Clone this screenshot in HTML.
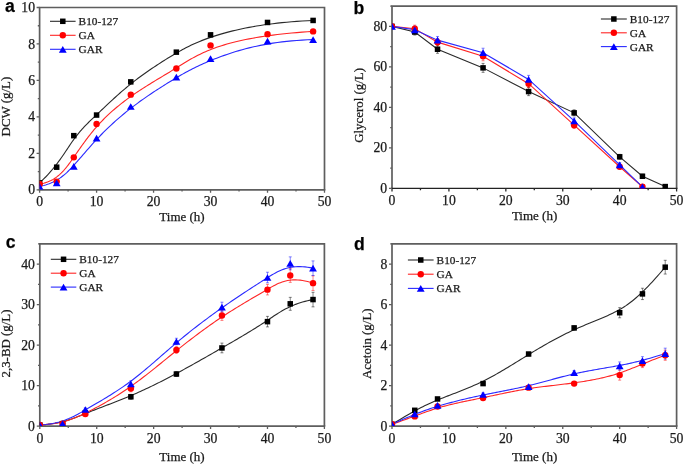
<!DOCTYPE html><html><head><meta charset="utf-8"><style>html,body{margin:0;padding:0;background:#fff;}svg{display:block;} svg{will-change:transform} text{stroke:#1a1a1a;stroke-width:0.25px}</style></head><body>
<svg width="685" height="465" viewBox="0 0 685 465">
<rect width="685" height="465" fill="#fff"/>
<path d="M39.6,189.8 V7.5 H324.5 V189.8" fill="none" stroke="#5e5e5e" stroke-width="1.7" stroke-linejoin="miter"/>
<path d="M38.75,189.8 H325.35" fill="none" stroke="#5e5e5e" stroke-width="1.7"/>
<clipPath id="cpa"><rect x="39.6" y="7.5" width="284.9" height="182.3"/></clipPath>
<g clip-path="url(#cpa)">
<path d="M39.6,182.87 L41.69,180.91 L43.7,178.95 L45.63,177 L47.47,175.05 L49.24,173.1 L50.94,171.17 L52.58,169.24 L54.14,167.33 L55.65,165.44 L57.1,163.56 L58.5,161.7 L59.84,159.86 L61.14,158.04 L62.39,156.25 L63.61,154.48 L64.78,152.74 L65.93,151.03 L67.04,149.36 L68.13,147.72 L69.2,146.12 L70.25,144.55 L71.28,143.03 L72.3,141.55 L73.31,140.11 L74.32,138.72 L75.32,137.37 L76.32,136.06 L77.32,134.79 L78.32,133.55 L79.32,132.35 L80.31,131.18 L81.31,130.03 L82.32,128.91 L83.33,127.81 L84.34,126.72 L85.36,125.65 L86.39,124.59 L87.43,123.55 L88.47,122.5 L89.53,121.47 L90.6,120.43 L91.68,119.39 L92.77,118.35 L93.88,117.3 L95,116.24 L96.14,115.16 L97.3,114.07 L98.48,112.96 L99.68,111.83 L100.89,110.68 L102.13,109.51 L103.39,108.32 L104.66,107.11 L105.96,105.89 L107.27,104.65 L108.61,103.4 L109.96,102.13 L111.34,100.86 L112.73,99.57 L114.15,98.28 L115.58,96.98 L117.04,95.67 L118.51,94.35 L120.01,93.03 L121.52,91.71 L123.05,90.38 L124.61,89.06 L126.18,87.73 L127.77,86.41 L129.38,85.09 L131.02,83.77 L132.67,82.46 L134.34,81.15 L136.03,79.85 L137.73,78.55 L139.46,77.27 L141.19,75.99 L142.94,74.73 L144.69,73.47 L146.46,72.22 L148.23,70.99 L150,69.76 L151.78,68.55 L153.56,67.35 L155.34,66.17 L157.12,65 L158.89,63.84 L160.66,62.7 L162.43,61.58 L164.18,60.47 L165.93,59.38 L167.66,58.31 L169.39,57.26 L171.09,56.23 L172.78,55.22 L174.45,54.23 L176.11,53.26 L177.74,52.31 L179.37,51.38 L180.99,50.47 L182.61,49.58 L184.23,48.7 L185.86,47.84 L187.5,46.99 L189.16,46.16 L190.84,45.34 L192.54,44.53 L194.28,43.74 L196.05,42.95 L197.85,42.17 L199.71,41.4 L201.61,40.63 L203.56,39.87 L205.57,39.12 L207.64,38.37 L209.78,37.62 L211.99,36.87 L214.27,36.13 L216.64,35.38 L219.09,34.63 L221.63,33.88 L224.26,33.13 L226.98,32.39 L229.81,31.64 L232.74,30.9 L235.78,30.17 L238.93,29.45 L242.2,28.74 L245.58,28.04 L249.09,27.36 L252.72,26.69 L256.48,26.05 L260.38,25.42 L264.41,24.82 L268.58,24.24 L272.9,23.68 L277.37,23.16 L281.99,22.66 L286.76,22.2 L291.7,21.77 L296.79,21.38 L302.06,21.03 L307.49,20.72 L313.1,20.44" fill="none" stroke="#2a2a2a" stroke-width="1.1"/>
<path d="M39.6,183.97 L41.69,183.62 L43.7,183.18 L45.63,182.64 L47.47,182.02 L49.24,181.31 L50.94,180.52 L52.58,179.66 L54.14,178.73 L55.65,177.73 L57.1,176.67 L58.5,175.55 L59.84,174.38 L61.14,173.16 L62.39,171.9 L63.61,170.6 L64.78,169.26 L65.93,167.89 L67.04,166.5 L68.13,165.09 L69.2,163.66 L70.25,162.21 L71.28,160.76 L72.3,159.31 L73.31,157.85 L74.32,156.4 L75.32,154.96 L76.32,153.52 L77.32,152.08 L78.32,150.66 L79.32,149.23 L80.31,147.82 L81.31,146.4 L82.32,145 L83.33,143.6 L84.34,142.2 L85.36,140.82 L86.39,139.43 L87.43,138.06 L88.47,136.69 L89.53,135.33 L90.6,133.97 L91.68,132.62 L92.77,131.28 L93.88,129.94 L95,128.61 L96.14,127.28 L97.3,125.97 L98.48,124.66 L99.68,123.36 L100.89,122.06 L102.13,120.77 L103.39,119.49 L104.66,118.21 L105.96,116.94 L107.27,115.68 L108.61,114.42 L109.96,113.18 L111.34,111.93 L112.73,110.7 L114.15,109.47 L115.58,108.24 L117.04,107.03 L118.51,105.81 L120.01,104.61 L121.52,103.41 L123.05,102.22 L124.61,101.03 L126.18,99.85 L127.77,98.68 L129.38,97.51 L131.02,96.34 L132.67,95.19 L134.34,94.03 L136.03,92.89 L137.73,91.75 L139.46,90.61 L141.19,89.48 L142.94,88.36 L144.69,87.24 L146.46,86.13 L148.23,85.02 L150,83.92 L151.78,82.82 L153.56,81.73 L155.34,80.65 L157.12,79.57 L158.89,78.49 L160.66,77.42 L162.43,76.36 L164.18,75.3 L165.93,74.25 L167.66,73.2 L169.39,72.16 L171.09,71.12 L172.78,70.08 L174.45,69.06 L176.11,68.03 L177.74,67.02 L179.37,66 L180.99,65 L182.61,64 L184.23,63 L185.86,62.02 L187.5,61.04 L189.16,60.06 L190.84,59.1 L192.54,58.14 L194.28,57.19 L196.05,56.25 L197.85,55.31 L199.71,54.39 L201.61,53.47 L203.56,52.57 L205.57,51.67 L207.64,50.78 L209.78,49.9 L211.99,49.04 L214.27,48.18 L216.64,47.33 L219.09,46.5 L221.63,45.67 L224.26,44.86 L226.98,44.06 L229.81,43.27 L232.74,42.5 L235.78,41.74 L238.93,41 L242.2,40.28 L245.58,39.57 L249.09,38.87 L252.72,38.2 L256.48,37.54 L260.38,36.91 L264.41,36.29 L268.58,35.7 L272.9,35.12 L277.37,34.57 L281.99,34.04 L286.76,33.53 L291.7,33.05 L296.79,32.6 L302.06,32.16 L307.49,31.76 L313.1,31.38" fill="none" stroke="#ff2525" stroke-width="1.1"/>
<path d="M39.6,186.52 L41.69,186.04 L43.7,185.51 L45.63,184.95 L47.47,184.33 L49.24,183.68 L50.94,182.99 L52.58,182.26 L54.14,181.5 L55.65,180.7 L57.1,179.87 L58.5,179.01 L59.84,178.12 L61.14,177.21 L62.39,176.26 L63.61,175.3 L64.78,174.31 L65.93,173.3 L67.04,172.28 L68.13,171.23 L69.2,170.18 L70.25,169.11 L71.28,168.02 L72.3,166.93 L73.31,165.83 L74.32,164.72 L75.32,163.6 L76.32,162.48 L77.32,161.35 L78.32,160.22 L79.32,159.08 L80.31,157.93 L81.31,156.78 L82.32,155.62 L83.33,154.45 L84.34,153.28 L85.36,152.1 L86.39,150.92 L87.43,149.73 L88.47,148.53 L89.53,147.33 L90.6,146.12 L91.68,144.91 L92.77,143.69 L93.88,142.46 L95,141.23 L96.14,140 L97.3,138.76 L98.48,137.51 L99.68,136.26 L100.89,135 L102.13,133.74 L103.39,132.47 L104.66,131.2 L105.96,129.93 L107.27,128.65 L108.61,127.37 L109.96,126.09 L111.34,124.81 L112.73,123.52 L114.15,122.24 L115.58,120.95 L117.04,119.66 L118.51,118.38 L120.01,117.09 L121.52,115.8 L123.05,114.52 L124.61,113.24 L126.18,111.95 L127.77,110.67 L129.38,109.4 L131.02,108.12 L132.67,106.85 L134.34,105.59 L136.03,104.32 L137.73,103.07 L139.46,101.82 L141.19,100.57 L142.94,99.33 L144.69,98.1 L146.46,96.88 L148.23,95.67 L150,94.46 L151.78,93.27 L153.56,92.08 L155.34,90.91 L157.12,89.75 L158.89,88.6 L160.66,87.47 L162.43,86.35 L164.18,85.24 L165.93,84.15 L167.66,83.07 L169.39,82.01 L171.09,80.97 L172.78,79.94 L174.45,78.93 L176.11,77.94 L177.74,76.97 L179.37,76.01 L180.99,75.07 L182.61,74.14 L184.23,73.23 L185.86,72.32 L187.5,71.42 L189.16,70.54 L190.84,69.65 L192.54,68.78 L194.28,67.91 L196.05,67.04 L197.85,66.17 L199.71,65.3 L201.61,64.43 L203.56,63.56 L205.57,62.68 L207.64,61.8 L209.78,60.91 L211.99,60.02 L214.27,59.11 L216.64,58.2 L219.09,57.27 L221.63,56.33 L224.26,55.38 L226.98,54.42 L229.81,53.46 L232.74,52.51 L235.78,51.56 L238.93,50.61 L242.2,49.69 L245.58,48.77 L249.09,47.88 L252.72,47.01 L256.48,46.17 L260.38,45.36 L264.41,44.59 L268.58,43.85 L272.9,43.16 L277.37,42.51 L281.99,41.91 L286.76,41.37 L291.7,40.88 L296.79,40.46 L302.06,40.1 L307.49,39.8 L313.1,39.58" fill="none" stroke="#2a2aff" stroke-width="1.1"/>
<rect x="36.85" y="180.12" width="5.5" height="5.5" fill="#000000"/>
<rect x="53.94" y="164.44" width="5.5" height="5.5" fill="#000000"/>
<rect x="71.04" y="132.91" width="5.5" height="5.5" fill="#000000"/>
<rect x="93.83" y="112.31" width="5.5" height="5.5" fill="#000000"/>
<rect x="128.02" y="79.13" width="5.5" height="5.5" fill="#000000"/>
<rect x="173.6" y="49.41" width="5.5" height="5.5" fill="#000000"/>
<rect x="207.79" y="32.09" width="5.5" height="5.5" fill="#000000"/>
<rect x="264.77" y="19.7" width="5.5" height="5.5" fill="#000000"/>
<rect x="310.35" y="17.69" width="5.5" height="5.5" fill="#000000"/>
<circle cx="39.6" cy="183.97" r="3.2" fill="#ff0000"/>
<circle cx="56.69" cy="181.6" r="3.2" fill="#ff0000"/>
<circle cx="73.79" cy="157.35" r="3.2" fill="#ff0000"/>
<circle cx="96.58" cy="123.99" r="3.2" fill="#ff0000"/>
<circle cx="130.77" cy="94.64" r="3.2" fill="#ff0000"/>
<circle cx="176.35" cy="68.57" r="3.2" fill="#ff0000"/>
<circle cx="210.54" cy="45.42" r="3.2" fill="#ff0000"/>
<circle cx="267.52" cy="34.3" r="3.2" fill="#ff0000"/>
<circle cx="313.1" cy="31.38" r="3.2" fill="#ff0000"/>
<path d="M39.6,183.17 L43.5,189.87 L35.7,189.87 Z" fill="#0000ff"/>
<path d="M56.69,179.52 L60.59,186.22 L52.79,186.22 Z" fill="#0000ff"/>
<path d="M73.79,163.12 L77.69,169.82 L69.89,169.82 Z" fill="#0000ff"/>
<path d="M96.58,134.68 L100.48,141.38 L92.68,141.38 Z" fill="#0000ff"/>
<path d="M130.77,103.14 L134.67,109.84 L126.87,109.84 Z" fill="#0000ff"/>
<path d="M176.35,73.79 L180.25,80.49 L172.45,80.49 Z" fill="#0000ff"/>
<path d="M210.54,55.19 L214.44,61.89 L206.64,61.89 Z" fill="#0000ff"/>
<path d="M267.52,37.69 L271.42,44.39 L263.62,44.39 Z" fill="#0000ff"/>
<path d="M313.1,36.23 L317,42.93 L309.2,42.93 Z" fill="#0000ff"/>
</g>
<path d="M39.6,189.8 V192.8 M68.09,189.8 V191.6 M96.58,189.8 V192.8 M125.07,189.8 V191.6 M153.56,189.8 V192.8 M182.05,189.8 V191.6 M210.54,189.8 V192.8 M239.03,189.8 V191.6 M267.52,189.8 V192.8 M296.01,189.8 V191.6 M324.5,189.8 V192.8" stroke="#5e5e5e" stroke-width="1.3" fill="none"/>
<path d="M39.6,189.8 H36.6 M39.6,171.57 H37.8 M39.6,153.34 H36.6 M39.6,135.11 H37.8 M39.6,116.88 H36.6 M39.6,98.65 H37.8 M39.6,80.42 H36.6 M39.6,62.19 H37.8 M39.6,43.96 H36.6 M39.6,25.73 H37.8 M39.6,7.5 H36.6" stroke="#5e5e5e" stroke-width="1.3" fill="none"/>
<text x="39.6" y="206.1" text-anchor="middle" font-family='"Liberation Serif", serif' font-size="13.7" fill="#1a1a1a">0</text>
<text x="96.58" y="206.1" text-anchor="middle" font-family='"Liberation Serif", serif' font-size="13.7" fill="#1a1a1a">10</text>
<text x="153.56" y="206.1" text-anchor="middle" font-family='"Liberation Serif", serif' font-size="13.7" fill="#1a1a1a">20</text>
<text x="210.54" y="206.1" text-anchor="middle" font-family='"Liberation Serif", serif' font-size="13.7" fill="#1a1a1a">30</text>
<text x="267.52" y="206.1" text-anchor="middle" font-family='"Liberation Serif", serif' font-size="13.7" fill="#1a1a1a">40</text>
<text x="324.5" y="206.1" text-anchor="middle" font-family='"Liberation Serif", serif' font-size="13.7" fill="#1a1a1a">50</text>
<text x="35" y="194.4" text-anchor="end" font-family='"Liberation Serif", serif' font-size="13.7" fill="#1a1a1a">0</text>
<text x="35" y="157.94" text-anchor="end" font-family='"Liberation Serif", serif' font-size="13.7" fill="#1a1a1a">2</text>
<text x="35" y="121.48" text-anchor="end" font-family='"Liberation Serif", serif' font-size="13.7" fill="#1a1a1a">4</text>
<text x="35" y="85.02" text-anchor="end" font-family='"Liberation Serif", serif' font-size="13.7" fill="#1a1a1a">6</text>
<text x="35" y="48.56" text-anchor="end" font-family='"Liberation Serif", serif' font-size="13.7" fill="#1a1a1a">8</text>
<text x="35" y="12.1" text-anchor="end" font-family='"Liberation Serif", serif' font-size="13.7" fill="#1a1a1a">10</text>
<text x="159.3" y="220.7" font-family='"Liberation Serif", serif' font-size="13.0" fill="#1a1a1a">Time (h)</text>
<text transform="translate(9.8,106.6) rotate(-90)" text-anchor="middle" font-family='"Liberation Serif", serif' font-size="12.9" fill="#1a1a1a">DCW (g/L)</text>
<path d="M50,21.3 H75.6" stroke="#2a2a2a" stroke-width="1.1"/>
<rect x="60.05" y="18.55" width="5.5" height="5.5" fill="#000000"/>
<text x="78.6" y="25.3" font-family='"Liberation Serif", serif' font-size="11.3" fill="#1a1a1a">B10-127</text>
<path d="M50,35.3 H75.6" stroke="#ff2525" stroke-width="1.1"/>
<circle cx="62.8" cy="35.3" r="3.2" fill="#ff0000"/>
<text x="78.6" y="39.3" font-family='"Liberation Serif", serif' font-size="11.3" fill="#1a1a1a">GA</text>
<path d="M50,49.3 H75.6" stroke="#2a2aff" stroke-width="1.1"/>
<path d="M62.8,45.95 L66.7,52.65 L58.9,52.65 Z" fill="#0000ff"/>
<text x="78.6" y="53.3" font-family='"Liberation Serif", serif' font-size="11.3" fill="#1a1a1a">GAR</text>
<text x="5" y="12.3" font-family='"Liberation Sans", sans-serif' font-weight="bold" font-size="17.6" fill="#000">a</text>
<path d="M392,188.4 V6.1 H676.6 V188.4" fill="none" stroke="#5e5e5e" stroke-width="1.7" stroke-linejoin="miter"/>
<path d="M391.15,188.4 H677.45" fill="none" stroke="#222" stroke-width="1.2"/>
<clipPath id="cpb"><rect x="392" y="6.1" width="284.6" height="182.3"/></clipPath>
<g clip-path="url(#cpb)">
<path d="M392,26.36 L414.77,32.03 L437.54,49.24 L483.07,67.88 L528.61,91.58 L574.14,112.85 L619.68,156.8 L642.45,176.25 L665.22,186.58" fill="none" stroke="#2a2a2a" stroke-width="1.1"/>
<path d="M392,26.36 L414.77,28.79 L437.54,42.15 L483.07,56.33 L528.61,83.68 L574.14,125.2 L619.68,166.73 L642.45,186.78" fill="none" stroke="#ff2525" stroke-width="1.1"/>
<path d="M392,26.36 L414.77,29.8 L437.54,40.13 L483.07,52.69 L528.61,79.43 L574.14,120.95 L619.68,164.9 L642.45,186.78" fill="none" stroke="#2a2aff" stroke-width="1.1"/>
<path d="M414.77,28.99 V35.07 M413.27,28.99 H416.27 M413.27,35.07 H416.27" stroke="#000000" stroke-width="0.8" fill="none" opacity="0.6"/>
<path d="M437.54,45.19 V53.3 M436.04,45.19 H439.04 M436.04,53.3 H439.04" stroke="#000000" stroke-width="0.8" fill="none" opacity="0.6"/>
<path d="M483.07,63.42 V72.34 M481.57,63.42 H484.57 M481.57,72.34 H484.57" stroke="#000000" stroke-width="0.8" fill="none" opacity="0.6"/>
<path d="M528.61,87.53 V95.63 M527.11,87.53 H530.11 M527.11,95.63 H530.11" stroke="#000000" stroke-width="0.8" fill="none" opacity="0.6"/>
<path d="M574.14,109.81 V115.89 M572.64,109.81 H575.64 M572.64,115.89 H575.64" stroke="#000000" stroke-width="0.8" fill="none" opacity="0.6"/>
<path d="M619.68,154.37 V159.23 M618.18,154.37 H621.18 M618.18,159.23 H621.18" stroke="#000000" stroke-width="0.8" fill="none" opacity="0.6"/>
<path d="M642.45,174.22 V178.27 M640.95,174.22 H643.95 M640.95,178.27 H643.95" stroke="#000000" stroke-width="0.8" fill="none" opacity="0.6"/>
<path d="M665.22,185.36 V187.79 M663.72,185.36 H666.72 M663.72,187.79 H666.72" stroke="#000000" stroke-width="0.8" fill="none" opacity="0.6"/>
<path d="M414.77,25.14 V32.43 M413.27,25.14 H416.27 M413.27,32.43 H416.27" stroke="#ff0000" stroke-width="0.8" fill="none" opacity="0.6"/>
<path d="M437.54,38.51 V45.8 M436.04,38.51 H439.04 M436.04,45.8 H439.04" stroke="#ff0000" stroke-width="0.8" fill="none" opacity="0.6"/>
<path d="M483.07,51.88 V60.79 M481.57,51.88 H484.57 M481.57,60.79 H484.57" stroke="#ff0000" stroke-width="0.8" fill="none" opacity="0.6"/>
<path d="M528.61,79.63 V87.73 M527.11,79.63 H530.11 M527.11,87.73 H530.11" stroke="#ff0000" stroke-width="0.8" fill="none" opacity="0.6"/>
<path d="M574.14,122.16 V128.24 M572.64,122.16 H575.64 M572.64,128.24 H575.64" stroke="#ff0000" stroke-width="0.8" fill="none" opacity="0.6"/>
<path d="M619.68,164.3 V169.16 M618.18,164.3 H621.18 M618.18,169.16 H621.18" stroke="#ff0000" stroke-width="0.8" fill="none" opacity="0.6"/>
<path d="M642.45,185.56 V187.99 M640.95,185.56 H643.95 M640.95,187.99 H643.95" stroke="#ff0000" stroke-width="0.8" fill="none" opacity="0.6"/>
<path d="M414.77,26.15 V33.45 M413.27,26.15 H416.27 M413.27,33.45 H416.27" stroke="#0000ff" stroke-width="0.8" fill="none" opacity="0.6"/>
<path d="M437.54,36.48 V43.78 M436.04,36.48 H439.04 M436.04,43.78 H439.04" stroke="#0000ff" stroke-width="0.8" fill="none" opacity="0.6"/>
<path d="M483.07,48.23 V57.14 M481.57,48.23 H484.57 M481.57,57.14 H484.57" stroke="#0000ff" stroke-width="0.8" fill="none" opacity="0.6"/>
<path d="M528.61,75.37 V83.48 M527.11,75.37 H530.11 M527.11,83.48 H530.11" stroke="#0000ff" stroke-width="0.8" fill="none" opacity="0.6"/>
<path d="M574.14,117.91 V123.99 M572.64,117.91 H575.64 M572.64,123.99 H575.64" stroke="#0000ff" stroke-width="0.8" fill="none" opacity="0.6"/>
<path d="M619.68,162.47 V167.33 M618.18,162.47 H621.18 M618.18,167.33 H621.18" stroke="#0000ff" stroke-width="0.8" fill="none" opacity="0.6"/>
<path d="M642.45,185.56 V187.99 M640.95,185.56 H643.95 M640.95,187.99 H643.95" stroke="#0000ff" stroke-width="0.8" fill="none" opacity="0.6"/>
<rect x="389.25" y="23.61" width="5.5" height="5.5" fill="#000000"/>
<rect x="412.02" y="29.28" width="5.5" height="5.5" fill="#000000"/>
<rect x="434.79" y="46.49" width="5.5" height="5.5" fill="#000000"/>
<rect x="480.32" y="65.13" width="5.5" height="5.5" fill="#000000"/>
<rect x="525.86" y="88.83" width="5.5" height="5.5" fill="#000000"/>
<rect x="571.39" y="110.1" width="5.5" height="5.5" fill="#000000"/>
<rect x="616.93" y="154.05" width="5.5" height="5.5" fill="#000000"/>
<rect x="639.7" y="173.5" width="5.5" height="5.5" fill="#000000"/>
<rect x="662.47" y="183.83" width="5.5" height="5.5" fill="#000000"/>
<circle cx="392" cy="26.36" r="3.2" fill="#ff0000"/>
<circle cx="414.77" cy="28.79" r="3.2" fill="#ff0000"/>
<circle cx="437.54" cy="42.15" r="3.2" fill="#ff0000"/>
<circle cx="483.07" cy="56.33" r="3.2" fill="#ff0000"/>
<circle cx="528.61" cy="83.68" r="3.2" fill="#ff0000"/>
<circle cx="574.14" cy="125.2" r="3.2" fill="#ff0000"/>
<circle cx="619.68" cy="166.73" r="3.2" fill="#ff0000"/>
<circle cx="642.45" cy="186.78" r="3.2" fill="#ff0000"/>
<path d="M392,23.01 L395.9,29.71 L388.1,29.71 Z" fill="#0000ff"/>
<path d="M414.77,26.45 L418.67,33.15 L410.87,33.15 Z" fill="#0000ff"/>
<path d="M437.54,36.78 L441.44,43.48 L433.64,43.48 Z" fill="#0000ff"/>
<path d="M483.07,49.34 L486.97,56.04 L479.17,56.04 Z" fill="#0000ff"/>
<path d="M528.61,76.08 L532.51,82.78 L524.71,82.78 Z" fill="#0000ff"/>
<path d="M574.14,117.6 L578.04,124.3 L570.24,124.3 Z" fill="#0000ff"/>
<path d="M619.68,161.55 L623.58,168.25 L615.78,168.25 Z" fill="#0000ff"/>
<path d="M642.45,183.43 L646.35,190.13 L638.55,190.13 Z" fill="#0000ff"/>
</g>
<path d="M392,188.4 V191.4 M420.46,188.4 V190.2 M448.92,188.4 V191.4 M477.38,188.4 V190.2 M505.84,188.4 V191.4 M534.3,188.4 V190.2 M562.76,188.4 V191.4 M591.22,188.4 V190.2 M619.68,188.4 V191.4 M648.14,188.4 V190.2 M676.6,188.4 V191.4" stroke="#2a2a2a" stroke-width="1.3" fill="none"/>
<path d="M392,188.4 H389 M392,168.14 H390.2 M392,147.89 H389 M392,127.63 H390.2 M392,107.38 H389 M392,87.12 H390.2 M392,66.87 H389 M392,46.61 H390.2 M392,26.36 H389 M392,6.1 H390.2" stroke="#5e5e5e" stroke-width="1.3" fill="none"/>
<text x="392" y="204.6" text-anchor="middle" font-family='"Liberation Serif", serif' font-size="13.7" fill="#1a1a1a">0</text>
<text x="448.92" y="204.6" text-anchor="middle" font-family='"Liberation Serif", serif' font-size="13.7" fill="#1a1a1a">10</text>
<text x="505.84" y="204.6" text-anchor="middle" font-family='"Liberation Serif", serif' font-size="13.7" fill="#1a1a1a">20</text>
<text x="562.76" y="204.6" text-anchor="middle" font-family='"Liberation Serif", serif' font-size="13.7" fill="#1a1a1a">30</text>
<text x="619.68" y="204.6" text-anchor="middle" font-family='"Liberation Serif", serif' font-size="13.7" fill="#1a1a1a">40</text>
<text x="676.6" y="204.6" text-anchor="middle" font-family='"Liberation Serif", serif' font-size="13.7" fill="#1a1a1a">50</text>
<text x="387.2" y="193" text-anchor="end" font-family='"Liberation Serif", serif' font-size="13.7" fill="#1a1a1a">0</text>
<text x="387.2" y="152.49" text-anchor="end" font-family='"Liberation Serif", serif' font-size="13.7" fill="#1a1a1a">20</text>
<text x="387.2" y="111.98" text-anchor="end" font-family='"Liberation Serif", serif' font-size="13.7" fill="#1a1a1a">40</text>
<text x="387.2" y="71.47" text-anchor="end" font-family='"Liberation Serif", serif' font-size="13.7" fill="#1a1a1a">60</text>
<text x="387.2" y="30.96" text-anchor="end" font-family='"Liberation Serif", serif' font-size="13.7" fill="#1a1a1a">80</text>
<text x="511.9" y="220" font-family='"Liberation Serif", serif' font-size="13.0" fill="#1a1a1a">Time (h)</text>
<text transform="translate(362.5,105.4) rotate(-90)" text-anchor="middle" font-family='"Liberation Serif", serif' font-size="12.9" fill="#1a1a1a">Glycerol (g/L)</text>
<path d="M600.9,19 H626.8" stroke="#2a2a2a" stroke-width="1.1"/>
<rect x="611.1" y="16.25" width="5.5" height="5.5" fill="#000000"/>
<text x="629.8" y="23" font-family='"Liberation Serif", serif' font-size="11.3" fill="#1a1a1a">B10-127</text>
<path d="M600.9,32.8 H626.8" stroke="#ff2525" stroke-width="1.1"/>
<circle cx="613.85" cy="32.8" r="3.2" fill="#ff0000"/>
<text x="629.8" y="36.8" font-family='"Liberation Serif", serif' font-size="11.3" fill="#1a1a1a">GA</text>
<path d="M600.9,46.6 H626.8" stroke="#2a2aff" stroke-width="1.1"/>
<path d="M613.85,43.25 L617.75,49.95 L609.95,49.95 Z" fill="#0000ff"/>
<text x="629.8" y="50.6" font-family='"Liberation Serif", serif' font-size="11.3" fill="#1a1a1a">GAR</text>
<text x="353.6" y="14" font-family='"Liberation Sans", sans-serif' font-weight="bold" font-size="17.6" fill="#000">b</text>
<path d="M39.8,426.1 V243.9 H324.4 V426.1" fill="none" stroke="#5e5e5e" stroke-width="1.7" stroke-linejoin="miter"/>
<path d="M38.95,426.1 H325.25" fill="none" stroke="#5e5e5e" stroke-width="1.7"/>
<clipPath id="cpc"><rect x="39.8" y="243.9" width="284.6" height="182.2"/></clipPath>
<g clip-path="url(#cpc)">
<path d="M39.8,425.01 L42.59,424.82 L45.26,424.59 L47.83,424.32 L50.3,424.01 L52.67,423.67 L54.95,423.3 L57.15,422.89 L59.27,422.45 L61.31,421.98 L63.29,421.49 L65.21,420.97 L67.07,420.43 L68.89,419.87 L70.66,419.29 L72.39,418.69 L74.09,418.07 L75.77,417.45 L77.42,416.8 L79.06,416.15 L80.69,415.5 L82.32,414.83 L83.94,414.16 L85.58,413.49 L87.23,412.81 L88.9,412.14 L90.59,411.47 L92.3,410.79 L94.02,410.12 L95.76,409.44 L97.52,408.76 L99.29,408.08 L101.08,407.4 L102.88,406.71 L104.69,406.02 L106.51,405.33 L108.34,404.63 L110.18,403.92 L112.04,403.21 L113.9,402.5 L115.76,401.77 L117.64,401.04 L119.52,400.3 L121.4,399.55 L123.29,398.79 L125.18,398.02 L127.08,397.24 L128.97,396.45 L130.87,395.65 L132.77,394.84 L134.67,394.02 L136.56,393.18 L138.46,392.33 L140.36,391.48 L142.26,390.61 L144.15,389.73 L146.05,388.84 L147.95,387.95 L149.85,387.04 L151.74,386.12 L153.64,385.2 L155.54,384.26 L157.43,383.32 L159.33,382.37 L161.23,381.41 L163.13,380.44 L165.02,379.47 L166.92,378.49 L168.82,377.5 L170.72,376.5 L172.61,375.5 L174.51,374.49 L176.41,373.48 L178.31,372.46 L180.2,371.43 L182.1,370.4 L184,369.37 L185.89,368.32 L187.79,367.28 L189.69,366.23 L191.59,365.17 L193.48,364.12 L195.38,363.05 L197.28,361.99 L199.18,360.92 L201.07,359.85 L202.97,358.77 L204.87,357.7 L206.77,356.62 L208.66,355.53 L210.56,354.45 L212.46,353.36 L214.35,352.28 L216.25,351.19 L218.15,350.1 L220.05,349.01 L221.94,347.92 L223.84,346.82 L225.74,345.73 L227.63,344.64 L229.52,343.55 L231.41,342.45 L233.3,341.36 L235.18,340.26 L237.05,339.17 L238.92,338.07 L240.78,336.98 L242.63,335.88 L244.47,334.78 L246.31,333.69 L248.13,332.59 L249.94,331.49 L251.74,330.39 L253.52,329.29 L255.3,328.19 L257.05,327.09 L258.79,325.99 L260.52,324.88 L262.22,323.78 L263.91,322.68 L265.58,321.57 L267.23,320.47 L268.87,319.36 L270.5,318.26 L272.13,317.17 L273.76,316.08 L275.4,315 L277.05,313.94 L278.72,312.88 L280.42,311.85 L282.16,310.83 L283.93,309.83 L285.74,308.85 L287.61,307.9 L289.52,306.97 L291.5,306.07 L293.55,305.2 L295.67,304.36 L297.87,303.56 L300.15,302.79 L302.52,302.06 L304.99,301.38 L307.55,300.73 L310.23,300.13 L313.02,299.57" fill="none" stroke="#2a2a2a" stroke-width="1.1"/>
<path d="M39.8,425.01 L42.59,424.82 L45.26,424.6 L47.83,424.35 L50.3,424.06 L52.67,423.74 L54.95,423.38 L57.15,422.99 L59.27,422.58 L61.31,422.13 L63.29,421.65 L65.21,421.14 L67.07,420.61 L68.89,420.04 L70.66,419.45 L72.39,418.84 L74.09,418.2 L75.77,417.53 L77.42,416.84 L79.06,416.12 L80.69,415.39 L82.32,414.63 L83.94,413.85 L85.58,413.04 L87.23,412.22 L88.9,411.38 L90.59,410.52 L92.3,409.64 L94.02,408.74 L95.76,407.82 L97.52,406.88 L99.29,405.92 L101.08,404.94 L102.88,403.94 L104.69,402.92 L106.51,401.88 L108.34,400.82 L110.18,399.73 L112.04,398.63 L113.9,397.5 L115.76,396.36 L117.64,395.19 L119.52,394 L121.4,392.78 L123.29,391.55 L125.18,390.29 L127.08,389.01 L128.97,387.71 L130.87,386.39 L132.77,385.04 L134.67,383.67 L136.56,382.28 L138.46,380.88 L140.36,379.45 L142.26,378.01 L144.15,376.56 L146.05,375.08 L147.95,373.6 L149.85,372.11 L151.74,370.6 L153.64,369.09 L155.54,367.57 L157.43,366.04 L159.33,364.51 L161.23,362.97 L163.13,361.43 L165.02,359.89 L166.92,358.34 L168.82,356.8 L170.72,355.27 L172.61,353.73 L174.51,352.2 L176.41,350.68 L178.31,349.16 L180.2,347.65 L182.1,346.15 L184,344.65 L185.89,343.17 L187.79,341.69 L189.69,340.23 L191.59,338.77 L193.48,337.32 L195.38,335.88 L197.28,334.45 L199.18,333.04 L201.07,331.63 L202.97,330.24 L204.87,328.85 L206.77,327.48 L208.66,326.12 L210.56,324.78 L212.46,323.44 L214.35,322.12 L216.25,320.82 L218.15,319.53 L220.05,318.25 L221.94,316.98 L223.84,315.73 L225.74,314.5 L227.63,313.28 L229.52,312.07 L231.41,310.88 L233.3,309.7 L235.18,308.53 L237.05,307.38 L238.92,306.23 L240.78,305.11 L242.63,303.99 L244.47,302.88 L246.31,301.79 L248.13,300.71 L249.94,299.63 L251.74,298.57 L253.52,297.52 L255.3,296.48 L257.05,295.45 L258.79,294.43 L260.52,293.41 L262.22,292.41 L263.91,291.42 L265.58,290.43 L267.23,289.45 L268.87,288.49 L270.5,287.54 L272.13,286.63 L273.76,285.74 L275.4,284.9 L277.05,284.1 L278.72,283.34 L280.42,282.65 L282.16,282.02 L283.93,281.46 L285.74,280.97 L287.61,280.56 L289.52,280.24 L291.5,280.02 L293.55,279.89 L295.67,279.87 L297.87,279.96 L300.15,280.16 L302.52,280.49 L304.99,280.95 L307.55,281.55 L310.23,282.29 L313.02,283.17" fill="none" stroke="#ff2525" stroke-width="1.1"/>
<path d="M39.8,425.01 L42.59,424.81 L45.26,424.56 L47.83,424.25 L50.3,423.88 L52.67,423.47 L54.95,423.01 L57.15,422.5 L59.27,421.94 L61.31,421.34 L63.29,420.71 L65.21,420.03 L67.07,419.32 L68.89,418.58 L70.66,417.8 L72.39,416.99 L74.09,416.16 L75.77,415.3 L77.42,414.42 L79.06,413.52 L80.69,412.61 L82.32,411.67 L83.94,410.72 L85.58,409.76 L87.23,408.79 L88.9,407.81 L90.59,406.83 L92.3,405.83 L94.02,404.83 L95.76,403.81 L97.52,402.78 L99.29,401.74 L101.08,400.68 L102.88,399.61 L104.69,398.53 L106.51,397.42 L108.34,396.3 L110.18,395.16 L112.04,394.01 L113.9,392.83 L115.76,391.63 L117.64,390.41 L119.52,389.16 L121.4,387.89 L123.29,386.6 L125.18,385.28 L127.08,383.93 L128.97,382.56 L130.87,381.16 L132.77,379.73 L134.67,378.27 L136.56,376.78 L138.46,375.27 L140.36,373.74 L142.26,372.19 L144.15,370.62 L146.05,369.03 L147.95,367.43 L149.85,365.81 L151.74,364.19 L153.64,362.55 L155.54,360.91 L157.43,359.25 L159.33,357.6 L161.23,355.94 L163.13,354.29 L165.02,352.63 L166.92,350.98 L168.82,349.33 L170.72,347.69 L172.61,346.06 L174.51,344.44 L176.41,342.83 L178.31,341.23 L180.2,339.65 L182.1,338.08 L184,336.53 L185.89,334.99 L187.79,333.46 L189.69,331.94 L191.59,330.44 L193.48,328.94 L195.38,327.46 L197.28,326 L199.18,324.54 L201.07,323.1 L202.97,321.66 L204.87,320.24 L206.77,318.82 L208.66,317.42 L210.56,316.03 L212.46,314.65 L214.35,313.27 L216.25,311.91 L218.15,310.56 L220.05,309.21 L221.94,307.87 L223.84,306.54 L225.74,305.22 L227.63,303.91 L229.52,302.61 L231.41,301.32 L233.3,300.04 L235.18,298.76 L237.05,297.5 L238.92,296.25 L240.78,295.01 L242.63,293.78 L244.47,292.56 L246.31,291.35 L248.13,290.15 L249.94,288.97 L251.74,287.8 L253.52,286.64 L255.3,285.49 L257.05,284.36 L258.79,283.24 L260.52,282.13 L262.22,281.03 L263.91,279.95 L265.58,278.89 L267.23,277.84 L268.87,276.81 L270.5,275.8 L272.13,274.82 L273.76,273.87 L275.4,272.96 L277.05,272.09 L278.72,271.27 L280.42,270.5 L282.16,269.79 L283.93,269.13 L285.74,268.54 L287.61,268.02 L289.52,267.58 L291.5,267.21 L293.55,266.92 L295.67,266.73 L297.87,266.62 L300.15,266.62 L302.52,266.71 L304.99,266.91 L307.55,267.22 L310.23,267.65 L313.02,268.19" fill="none" stroke="#2a2aff" stroke-width="1.1"/>
<path d="M62.57,422.46 V424.89 M61.07,422.46 H64.07 M61.07,424.89 H64.07" stroke="#000000" stroke-width="0.8" fill="none" opacity="0.6"/>
<path d="M85.34,411.12 V414.36 M83.84,411.12 H86.84 M83.84,414.36 H86.84" stroke="#000000" stroke-width="0.8" fill="none" opacity="0.6"/>
<path d="M130.87,394.36 V399.22 M129.37,394.36 H132.37 M129.37,399.22 H132.37" stroke="#000000" stroke-width="0.8" fill="none" opacity="0.6"/>
<path d="M176.41,371.6 V376.46 M174.91,371.6 H177.91 M174.91,376.46 H177.91" stroke="#000000" stroke-width="0.8" fill="none" opacity="0.6"/>
<path d="M221.94,343.1 V352.82 M220.44,343.1 H223.44 M220.44,352.82 H223.44" stroke="#000000" stroke-width="0.8" fill="none" opacity="0.6"/>
<path d="M267.48,316.38 V326.9 M265.98,316.38 H268.98 M265.98,326.9 H268.98" stroke="#000000" stroke-width="0.8" fill="none" opacity="0.6"/>
<path d="M290.25,297.35 V310.3 M288.75,297.35 H291.75 M288.75,310.3 H291.75" stroke="#000000" stroke-width="0.8" fill="none" opacity="0.6"/>
<path d="M313.02,292.28 V306.86 M311.52,292.28 H314.52 M311.52,306.86 H314.52" stroke="#000000" stroke-width="0.8" fill="none" opacity="0.6"/>
<path d="M62.57,422.46 V424.89 M61.07,422.46 H64.07 M61.07,424.89 H64.07" stroke="#ff0000" stroke-width="0.8" fill="none" opacity="0.6"/>
<path d="M85.34,412.46 V415.69 M83.84,412.46 H86.84 M83.84,415.69 H86.84" stroke="#ff0000" stroke-width="0.8" fill="none" opacity="0.6"/>
<path d="M130.87,385.33 V391.81 M129.37,385.33 H132.37 M129.37,391.81 H132.37" stroke="#ff0000" stroke-width="0.8" fill="none" opacity="0.6"/>
<path d="M176.41,346.74 V353.22 M174.91,346.74 H177.91 M174.91,353.22 H177.91" stroke="#ff0000" stroke-width="0.8" fill="none" opacity="0.6"/>
<path d="M221.94,310.71 V320.42 M220.44,310.71 H223.44 M220.44,320.42 H223.44" stroke="#ff0000" stroke-width="0.8" fill="none" opacity="0.6"/>
<path d="M267.48,284.39 V294.92 M265.98,284.39 H268.98 M265.98,294.92 H268.98" stroke="#ff0000" stroke-width="0.8" fill="none" opacity="0.6"/>
<path d="M290.25,268.6 V282.36 M288.75,268.6 H291.75 M288.75,282.36 H291.75" stroke="#ff0000" stroke-width="0.8" fill="none" opacity="0.6"/>
<path d="M313.02,275.89 V290.46 M311.52,275.89 H314.52 M311.52,290.46 H314.52" stroke="#ff0000" stroke-width="0.8" fill="none" opacity="0.6"/>
<path d="M62.57,422.46 V424.89 M61.07,422.46 H64.07 M61.07,424.89 H64.07" stroke="#0000ff" stroke-width="0.8" fill="none" opacity="0.6"/>
<path d="M85.34,407.88 V411.12 M83.84,407.88 H86.84 M83.84,411.12 H86.84" stroke="#0000ff" stroke-width="0.8" fill="none" opacity="0.6"/>
<path d="M130.87,380.75 V387.23 M129.37,380.75 H132.37 M129.37,387.23 H132.37" stroke="#0000ff" stroke-width="0.8" fill="none" opacity="0.6"/>
<path d="M176.41,338.24 V344.72 M174.91,338.24 H177.91 M174.91,344.72 H177.91" stroke="#0000ff" stroke-width="0.8" fill="none" opacity="0.6"/>
<path d="M221.94,302.2 V311.92 M220.44,302.2 H223.44 M220.44,311.92 H223.44" stroke="#0000ff" stroke-width="0.8" fill="none" opacity="0.6"/>
<path d="M267.48,272.24 V282.77 M265.98,272.24 H268.98 M265.98,282.77 H268.98" stroke="#0000ff" stroke-width="0.8" fill="none" opacity="0.6"/>
<path d="M290.25,256.86 V269.81 M288.75,256.86 H291.75 M288.75,269.81 H291.75" stroke="#0000ff" stroke-width="0.8" fill="none" opacity="0.6"/>
<path d="M313.02,260.91 V275.48 M311.52,260.91 H314.52 M311.52,275.48 H314.52" stroke="#0000ff" stroke-width="0.8" fill="none" opacity="0.6"/>
<rect x="37.05" y="422.26" width="5.5" height="5.5" fill="#000000"/>
<rect x="59.82" y="420.92" width="5.5" height="5.5" fill="#000000"/>
<rect x="82.59" y="409.99" width="5.5" height="5.5" fill="#000000"/>
<rect x="128.12" y="394.04" width="5.5" height="5.5" fill="#000000"/>
<rect x="173.66" y="371.28" width="5.5" height="5.5" fill="#000000"/>
<rect x="219.19" y="345.21" width="5.5" height="5.5" fill="#000000"/>
<rect x="264.73" y="318.89" width="5.5" height="5.5" fill="#000000"/>
<rect x="287.5" y="301.07" width="5.5" height="5.5" fill="#000000"/>
<rect x="310.27" y="296.82" width="5.5" height="5.5" fill="#000000"/>
<circle cx="39.8" cy="425.01" r="3.2" fill="#ff0000"/>
<circle cx="62.57" cy="423.67" r="3.2" fill="#ff0000"/>
<circle cx="85.34" cy="414.07" r="3.2" fill="#ff0000"/>
<circle cx="130.87" cy="388.57" r="3.2" fill="#ff0000"/>
<circle cx="176.41" cy="349.98" r="3.2" fill="#ff0000"/>
<circle cx="221.94" cy="315.57" r="3.2" fill="#ff0000"/>
<circle cx="267.48" cy="289.65" r="3.2" fill="#ff0000"/>
<circle cx="290.25" cy="275.48" r="3.2" fill="#ff0000"/>
<circle cx="313.02" cy="283.17" r="3.2" fill="#ff0000"/>
<path d="M39.8,421.66 L43.7,428.36 L35.9,428.36 Z" fill="#0000ff"/>
<path d="M62.57,420.32 L66.47,427.02 L58.67,427.02 Z" fill="#0000ff"/>
<path d="M85.34,406.15 L89.24,412.85 L81.44,412.85 Z" fill="#0000ff"/>
<path d="M130.87,380.64 L134.77,387.34 L126.97,387.34 Z" fill="#0000ff"/>
<path d="M176.41,338.13 L180.31,344.83 L172.51,344.83 Z" fill="#0000ff"/>
<path d="M221.94,303.71 L225.84,310.41 L218.04,310.41 Z" fill="#0000ff"/>
<path d="M267.48,274.16 L271.38,280.86 L263.58,280.86 Z" fill="#0000ff"/>
<path d="M290.25,259.98 L294.15,266.68 L286.35,266.68 Z" fill="#0000ff"/>
<path d="M313.02,264.84 L316.92,271.54 L309.12,271.54 Z" fill="#0000ff"/>
</g>
<path d="M39.8,426.1 V429.1 M68.26,426.1 V427.9 M96.72,426.1 V429.1 M125.18,426.1 V427.9 M153.64,426.1 V429.1 M182.1,426.1 V427.9 M210.56,426.1 V429.1 M239.02,426.1 V427.9 M267.48,426.1 V429.1 M295.94,426.1 V427.9 M324.4,426.1 V429.1" stroke="#5e5e5e" stroke-width="1.3" fill="none"/>
<path d="M39.8,426.1 H36.8 M39.8,405.86 H38 M39.8,385.61 H36.8 M39.8,365.37 H38 M39.8,345.12 H36.8 M39.8,324.88 H38 M39.8,304.63 H36.8 M39.8,284.39 H38 M39.8,264.14 H36.8 M39.8,243.9 H38" stroke="#5e5e5e" stroke-width="1.3" fill="none"/>
<text x="39.8" y="442.6" text-anchor="middle" font-family='"Liberation Serif", serif' font-size="13.7" fill="#1a1a1a">0</text>
<text x="96.72" y="442.6" text-anchor="middle" font-family='"Liberation Serif", serif' font-size="13.7" fill="#1a1a1a">10</text>
<text x="153.64" y="442.6" text-anchor="middle" font-family='"Liberation Serif", serif' font-size="13.7" fill="#1a1a1a">20</text>
<text x="210.56" y="442.6" text-anchor="middle" font-family='"Liberation Serif", serif' font-size="13.7" fill="#1a1a1a">30</text>
<text x="267.48" y="442.6" text-anchor="middle" font-family='"Liberation Serif", serif' font-size="13.7" fill="#1a1a1a">40</text>
<text x="324.4" y="442.6" text-anchor="middle" font-family='"Liberation Serif", serif' font-size="13.7" fill="#1a1a1a">50</text>
<text x="34.9" y="430.7" text-anchor="end" font-family='"Liberation Serif", serif' font-size="13.7" fill="#1a1a1a">0</text>
<text x="34.9" y="390.21" text-anchor="end" font-family='"Liberation Serif", serif' font-size="13.7" fill="#1a1a1a">10</text>
<text x="34.9" y="349.72" text-anchor="end" font-family='"Liberation Serif", serif' font-size="13.7" fill="#1a1a1a">20</text>
<text x="34.9" y="309.23" text-anchor="end" font-family='"Liberation Serif", serif' font-size="13.7" fill="#1a1a1a">30</text>
<text x="34.9" y="268.74" text-anchor="end" font-family='"Liberation Serif", serif' font-size="13.7" fill="#1a1a1a">40</text>
<text x="159.3" y="460.6" font-family='"Liberation Serif", serif' font-size="13.0" fill="#1a1a1a">Time (h)</text>
<text transform="translate(9.8,343.5) rotate(-90)" text-anchor="middle" font-family='"Liberation Serif", serif' font-size="12.9" fill="#1a1a1a">2,3-BD (g/L)</text>
<path d="M50.8,259.3 H76.3" stroke="#2a2a2a" stroke-width="1.1"/>
<rect x="60.8" y="256.55" width="5.5" height="5.5" fill="#000000"/>
<text x="79.3" y="263.3" font-family='"Liberation Serif", serif' font-size="11.3" fill="#1a1a1a">B10-127</text>
<path d="M50.8,273.2 H76.3" stroke="#ff2525" stroke-width="1.1"/>
<circle cx="63.55" cy="273.2" r="3.2" fill="#ff0000"/>
<text x="79.3" y="277.2" font-family='"Liberation Serif", serif' font-size="11.3" fill="#1a1a1a">GA</text>
<path d="M50.8,287.1 H76.3" stroke="#2a2aff" stroke-width="1.1"/>
<path d="M63.55,283.75 L67.45,290.45 L59.65,290.45 Z" fill="#0000ff"/>
<text x="79.3" y="291.1" font-family='"Liberation Serif", serif' font-size="11.3" fill="#1a1a1a">GAR</text>
<text x="5.8" y="248.3" font-family='"Liberation Sans", sans-serif' font-weight="bold" font-size="17.6" fill="#000">c</text>
<path d="M392,426.1 V243.9 H676.6 V426.1" fill="none" stroke="#5e5e5e" stroke-width="1.7" stroke-linejoin="miter"/>
<path d="M391.15,426.1 H677.45" fill="none" stroke="#5e5e5e" stroke-width="1.7"/>
<clipPath id="cpd"><rect x="392" y="243.9" width="284.6" height="182.2"/></clipPath>
<g clip-path="url(#cpd)">
<path d="M392,424.28 L394.79,422.57 L397.46,420.95 L400.03,419.41 L402.5,417.95 L404.87,416.56 L407.15,415.23 L409.35,413.97 L411.47,412.78 L413.51,411.64 L415.49,410.56 L417.41,409.53 L419.27,408.55 L421.09,407.61 L422.86,406.71 L424.59,405.85 L426.29,405.03 L427.97,404.23 L429.62,403.47 L431.26,402.72 L432.89,402 L434.52,401.3 L436.14,400.6 L437.78,399.92 L439.43,399.24 L441.1,398.57 L442.79,397.9 L444.5,397.23 L446.22,396.55 L447.96,395.88 L449.72,395.2 L451.49,394.52 L453.28,393.84 L455.08,393.14 L456.89,392.44 L458.71,391.74 L460.54,391.02 L462.38,390.29 L464.24,389.55 L466.1,388.79 L467.96,388.03 L469.84,387.24 L471.72,386.44 L473.6,385.62 L475.49,384.79 L477.38,383.93 L479.28,383.05 L481.17,382.15 L483.07,381.22 L484.97,380.28 L486.87,379.3 L488.76,378.31 L490.66,377.3 L492.56,376.26 L494.46,375.21 L496.35,374.14 L498.25,373.06 L500.15,371.96 L502.05,370.84 L503.94,369.72 L505.84,368.58 L507.74,367.44 L509.63,366.29 L511.53,365.13 L513.43,363.96 L515.33,362.8 L517.22,361.62 L519.12,360.45 L521.02,359.28 L522.92,358.1 L524.81,356.93 L526.71,355.77 L528.61,354.6 L530.51,353.45 L532.4,352.3 L534.3,351.15 L536.2,350.02 L538.09,348.89 L539.99,347.77 L541.89,346.66 L543.79,345.56 L545.68,344.47 L547.58,343.39 L549.48,342.33 L551.38,341.27 L553.27,340.23 L555.17,339.2 L557.07,338.18 L558.97,337.18 L560.86,336.19 L562.76,335.22 L564.66,334.26 L566.55,333.32 L568.45,332.4 L570.35,331.49 L572.25,330.61 L574.14,329.74 L576.04,328.89 L577.94,328.05 L579.83,327.23 L581.72,326.43 L583.61,325.64 L585.5,324.85 L587.38,324.08 L589.25,323.31 L591.12,322.55 L592.98,321.79 L594.83,321.04 L596.67,320.28 L598.51,319.52 L600.33,318.76 L602.14,317.99 L603.94,317.21 L605.72,316.43 L607.5,315.64 L609.25,314.83 L610.99,314.01 L612.72,313.17 L614.42,312.32 L616.11,311.45 L617.78,310.55 L619.43,309.64 L621.07,308.69 L622.7,307.71 L624.33,306.68 L625.96,305.61 L627.6,304.48 L629.25,303.29 L630.92,302.03 L632.62,300.7 L634.36,299.28 L636.13,297.77 L637.94,296.17 L639.81,294.47 L641.72,292.66 L643.7,290.74 L645.75,288.69 L647.87,286.52 L650.07,284.21 L652.35,281.77 L654.72,279.17 L657.19,276.42 L659.75,273.51 L662.43,270.43 L665.22,267.18" fill="none" stroke="#2a2a2a" stroke-width="1.1"/>
<path d="M392,424.28 L394.79,423.31 L397.46,422.36 L400.03,421.45 L402.5,420.57 L404.87,419.71 L407.15,418.88 L409.35,418.07 L411.47,417.29 L413.51,416.54 L415.49,415.8 L417.41,415.09 L419.27,414.4 L421.09,413.73 L422.86,413.09 L424.59,412.46 L426.29,411.85 L427.97,411.25 L429.62,410.68 L431.26,410.12 L432.89,409.57 L434.52,409.04 L436.14,408.52 L437.78,408.02 L439.43,407.53 L441.1,407.04 L442.79,406.57 L444.5,406.11 L446.22,405.66 L447.96,405.22 L449.72,404.78 L451.49,404.35 L453.28,403.93 L455.08,403.52 L456.89,403.11 L458.71,402.71 L460.54,402.31 L462.38,401.91 L464.24,401.52 L466.1,401.13 L467.96,400.74 L469.84,400.36 L471.72,399.97 L473.6,399.59 L475.49,399.21 L477.38,398.82 L479.28,398.44 L481.17,398.05 L483.07,397.66 L484.97,397.26 L486.87,396.87 L488.76,396.47 L490.66,396.07 L492.56,395.67 L494.46,395.27 L496.35,394.87 L498.25,394.47 L500.15,394.07 L502.05,393.67 L503.94,393.28 L505.84,392.89 L507.74,392.5 L509.63,392.12 L511.53,391.75 L513.43,391.38 L515.33,391.01 L517.22,390.65 L519.12,390.3 L521.02,389.96 L522.92,389.63 L524.81,389.3 L526.71,388.99 L528.61,388.68 L530.51,388.39 L532.4,388.1 L534.3,387.83 L536.2,387.56 L538.09,387.3 L539.99,387.05 L541.89,386.81 L543.79,386.57 L545.68,386.33 L547.58,386.1 L549.48,385.87 L551.38,385.65 L553.27,385.43 L555.17,385.2 L557.07,384.98 L558.97,384.76 L560.86,384.53 L562.76,384.3 L564.66,384.07 L566.55,383.84 L568.45,383.6 L570.35,383.35 L572.25,383.1 L574.14,382.84 L576.04,382.58 L577.94,382.31 L579.83,382.02 L581.72,381.73 L583.61,381.43 L585.5,381.12 L587.38,380.81 L589.25,380.48 L591.12,380.14 L592.98,379.79 L594.83,379.43 L596.67,379.06 L598.51,378.68 L600.33,378.28 L602.14,377.88 L603.94,377.46 L605.72,377.02 L607.5,376.58 L609.25,376.12 L610.99,375.65 L612.72,375.16 L614.42,374.66 L616.11,374.15 L617.78,373.62 L619.43,373.07 L621.07,372.51 L622.7,371.93 L624.33,371.34 L625.96,370.73 L627.6,370.1 L629.25,369.45 L630.92,368.79 L632.62,368.1 L634.36,367.4 L636.13,366.67 L637.94,365.93 L639.81,365.16 L641.72,364.38 L643.7,363.57 L645.75,362.74 L647.87,361.89 L650.07,361.01 L652.35,360.11 L654.72,359.19 L657.19,358.24 L659.75,357.27 L662.43,356.27 L665.22,355.24" fill="none" stroke="#ff2525" stroke-width="1.1"/>
<path d="M392,424.28 L394.79,423.02 L397.46,421.82 L400.03,420.68 L402.5,419.6 L404.87,418.56 L407.15,417.58 L409.35,416.65 L411.47,415.76 L413.51,414.92 L415.49,414.12 L417.41,413.35 L419.27,412.62 L421.09,411.93 L422.86,411.26 L424.59,410.63 L426.29,410.02 L427.97,409.43 L429.62,408.86 L431.26,408.31 L432.89,407.78 L434.52,407.26 L436.14,406.75 L437.78,406.25 L439.43,405.75 L441.1,405.26 L442.79,404.77 L444.5,404.29 L446.22,403.81 L447.96,403.33 L449.72,402.85 L451.49,402.38 L453.28,401.92 L455.08,401.45 L456.89,400.99 L458.71,400.54 L460.54,400.09 L462.38,399.64 L464.24,399.2 L466.1,398.76 L467.96,398.32 L469.84,397.89 L471.72,397.47 L473.6,397.05 L475.49,396.63 L477.38,396.22 L479.28,395.82 L481.17,395.42 L483.07,395.02 L484.97,394.64 L486.87,394.25 L488.76,393.87 L490.66,393.49 L492.56,393.12 L494.46,392.74 L496.35,392.37 L498.25,392 L500.15,391.63 L502.05,391.26 L503.94,390.88 L505.84,390.51 L507.74,390.13 L509.63,389.75 L511.53,389.36 L513.43,388.97 L515.33,388.58 L517.22,388.18 L519.12,387.77 L521.02,387.36 L522.92,386.93 L524.81,386.5 L526.71,386.06 L528.61,385.61 L530.51,385.15 L532.4,384.68 L534.3,384.2 L536.2,383.72 L538.09,383.22 L539.99,382.72 L541.89,382.22 L543.79,381.71 L545.68,381.2 L547.58,380.69 L549.48,380.18 L551.38,379.66 L553.27,379.15 L555.17,378.64 L557.07,378.14 L558.97,377.63 L560.86,377.14 L562.76,376.64 L564.66,376.16 L566.55,375.68 L568.45,375.21 L570.35,374.75 L572.25,374.31 L574.14,373.87 L576.04,373.45 L577.94,373.03 L579.83,372.63 L581.72,372.24 L583.61,371.86 L585.5,371.49 L587.38,371.13 L589.25,370.78 L591.12,370.44 L592.98,370.1 L594.83,369.77 L596.67,369.44 L598.51,369.12 L600.33,368.81 L602.14,368.49 L603.94,368.19 L605.72,367.88 L607.5,367.58 L609.25,367.28 L610.99,366.98 L612.72,366.68 L614.42,366.38 L616.11,366.07 L617.78,365.77 L619.43,365.47 L621.07,365.16 L622.7,364.84 L624.33,364.52 L625.96,364.19 L627.6,363.85 L629.25,363.49 L630.92,363.12 L632.62,362.73 L634.36,362.32 L636.13,361.89 L637.94,361.44 L639.81,360.97 L641.72,360.47 L643.7,359.94 L645.75,359.38 L647.87,358.79 L650.07,358.17 L652.35,357.51 L654.72,356.82 L657.19,356.08 L659.75,355.31 L662.43,354.49 L665.22,353.62" fill="none" stroke="#2a2aff" stroke-width="1.1"/>
<path d="M414.77,409.3 V411.32 M413.27,409.3 H416.27 M413.27,411.32 H416.27" stroke="#000000" stroke-width="0.8" fill="none" opacity="0.6"/>
<path d="M437.54,397.76 V400.19 M436.04,397.76 H439.04 M436.04,400.19 H439.04" stroke="#000000" stroke-width="0.8" fill="none" opacity="0.6"/>
<path d="M483.07,381.97 V385.21 M481.57,381.97 H484.57 M481.57,385.21 H484.57" stroke="#000000" stroke-width="0.8" fill="none" opacity="0.6"/>
<path d="M528.61,352.41 V355.65 M527.11,352.41 H530.11 M527.11,355.65 H530.11" stroke="#000000" stroke-width="0.8" fill="none" opacity="0.6"/>
<path d="M574.14,325.89 V329.94 M572.64,325.89 H575.64 M572.64,329.94 H575.64" stroke="#000000" stroke-width="0.8" fill="none" opacity="0.6"/>
<path d="M619.68,307.67 V317.79 M618.18,307.67 H621.18 M618.18,317.79 H621.18" stroke="#000000" stroke-width="0.8" fill="none" opacity="0.6"/>
<path d="M642.45,288.24 V299.57 M640.95,288.24 H643.95 M640.95,299.57 H643.95" stroke="#000000" stroke-width="0.8" fill="none" opacity="0.6"/>
<path d="M665.22,260.3 V274.06 M663.72,260.3 H666.72 M663.72,274.06 H666.72" stroke="#000000" stroke-width="0.8" fill="none" opacity="0.6"/>
<path d="M414.77,415.37 V417.39 M413.27,415.37 H416.27 M413.27,417.39 H416.27" stroke="#ff0000" stroke-width="0.8" fill="none" opacity="0.6"/>
<path d="M437.54,405.25 V407.68 M436.04,405.25 H439.04 M436.04,407.68 H439.04" stroke="#ff0000" stroke-width="0.8" fill="none" opacity="0.6"/>
<path d="M483.07,396.34 V399.58 M481.57,396.34 H484.57 M481.57,399.58 H484.57" stroke="#ff0000" stroke-width="0.8" fill="none" opacity="0.6"/>
<path d="M528.61,386.02 V389.26 M527.11,386.02 H530.11 M527.11,389.26 H530.11" stroke="#ff0000" stroke-width="0.8" fill="none" opacity="0.6"/>
<path d="M574.14,381.56 V385.61 M572.64,381.56 H575.64 M572.64,385.61 H575.64" stroke="#ff0000" stroke-width="0.8" fill="none" opacity="0.6"/>
<path d="M619.68,370.02 V380.15 M618.18,370.02 H621.18 M618.18,380.15 H621.18" stroke="#ff0000" stroke-width="0.8" fill="none" opacity="0.6"/>
<path d="M642.45,359.5 V367.59 M640.95,359.5 H643.95 M640.95,367.59 H643.95" stroke="#ff0000" stroke-width="0.8" fill="none" opacity="0.6"/>
<path d="M665.22,350.18 V360.31 M663.72,350.18 H666.72 M663.72,360.31 H666.72" stroke="#ff0000" stroke-width="0.8" fill="none" opacity="0.6"/>
<path d="M414.77,412.94 V414.97 M413.27,412.94 H416.27 M413.27,414.97 H416.27" stroke="#0000ff" stroke-width="0.8" fill="none" opacity="0.6"/>
<path d="M437.54,404.24 V406.67 M436.04,404.24 H439.04 M436.04,406.67 H439.04" stroke="#0000ff" stroke-width="0.8" fill="none" opacity="0.6"/>
<path d="M483.07,392.9 V396.14 M481.57,392.9 H484.57 M481.57,396.14 H484.57" stroke="#0000ff" stroke-width="0.8" fill="none" opacity="0.6"/>
<path d="M528.61,385 V388.24 M527.11,385 H530.11 M527.11,388.24 H530.11" stroke="#0000ff" stroke-width="0.8" fill="none" opacity="0.6"/>
<path d="M574.14,370.63 V374.68 M572.64,370.63 H575.64 M572.64,374.68 H575.64" stroke="#0000ff" stroke-width="0.8" fill="none" opacity="0.6"/>
<path d="M619.68,361.93 V370.02 M618.18,361.93 H621.18 M618.18,370.02 H621.18" stroke="#0000ff" stroke-width="0.8" fill="none" opacity="0.6"/>
<path d="M642.45,356.66 V364.76 M640.95,356.66 H643.95 M640.95,364.76 H643.95" stroke="#0000ff" stroke-width="0.8" fill="none" opacity="0.6"/>
<path d="M665.22,348.16 V359.09 M663.72,348.16 H666.72 M663.72,359.09 H666.72" stroke="#0000ff" stroke-width="0.8" fill="none" opacity="0.6"/>
<rect x="389.25" y="421.53" width="5.5" height="5.5" fill="#000000"/>
<rect x="412.02" y="407.56" width="5.5" height="5.5" fill="#000000"/>
<rect x="434.79" y="396.22" width="5.5" height="5.5" fill="#000000"/>
<rect x="480.32" y="380.84" width="5.5" height="5.5" fill="#000000"/>
<rect x="525.86" y="351.28" width="5.5" height="5.5" fill="#000000"/>
<rect x="571.39" y="325.16" width="5.5" height="5.5" fill="#000000"/>
<rect x="616.93" y="309.98" width="5.5" height="5.5" fill="#000000"/>
<rect x="639.7" y="291.15" width="5.5" height="5.5" fill="#000000"/>
<rect x="662.47" y="264.43" width="5.5" height="5.5" fill="#000000"/>
<circle cx="392" cy="424.28" r="3.2" fill="#ff0000"/>
<circle cx="414.77" cy="416.38" r="3.2" fill="#ff0000"/>
<circle cx="437.54" cy="406.46" r="3.2" fill="#ff0000"/>
<circle cx="483.07" cy="397.96" r="3.2" fill="#ff0000"/>
<circle cx="528.61" cy="387.64" r="3.2" fill="#ff0000"/>
<circle cx="574.14" cy="383.59" r="3.2" fill="#ff0000"/>
<circle cx="619.68" cy="375.08" r="3.2" fill="#ff0000"/>
<circle cx="642.45" cy="363.54" r="3.2" fill="#ff0000"/>
<circle cx="665.22" cy="355.24" r="3.2" fill="#ff0000"/>
<path d="M392,420.93 L395.9,427.63 L388.1,427.63 Z" fill="#0000ff"/>
<path d="M414.77,410.6 L418.67,417.3 L410.87,417.3 Z" fill="#0000ff"/>
<path d="M437.54,402.1 L441.44,408.8 L433.64,408.8 Z" fill="#0000ff"/>
<path d="M483.07,391.17 L486.97,397.87 L479.17,397.87 Z" fill="#0000ff"/>
<path d="M528.61,383.27 L532.51,389.97 L524.71,389.97 Z" fill="#0000ff"/>
<path d="M574.14,369.3 L578.04,376 L570.24,376 Z" fill="#0000ff"/>
<path d="M619.68,362.62 L623.58,369.32 L615.78,369.32 Z" fill="#0000ff"/>
<path d="M642.45,357.36 L646.35,364.06 L638.55,364.06 Z" fill="#0000ff"/>
<path d="M665.22,350.27 L669.12,356.97 L661.32,356.97 Z" fill="#0000ff"/>
</g>
<path d="M392,426.1 V429.1 M420.46,426.1 V427.9 M448.92,426.1 V429.1 M477.38,426.1 V427.9 M505.84,426.1 V429.1 M534.3,426.1 V427.9 M562.76,426.1 V429.1 M591.22,426.1 V427.9 M619.68,426.1 V429.1 M648.14,426.1 V427.9 M676.6,426.1 V429.1" stroke="#5e5e5e" stroke-width="1.3" fill="none"/>
<path d="M392,426.1 H389 M392,405.86 H390.2 M392,385.61 H389 M392,365.37 H390.2 M392,345.12 H389 M392,324.88 H390.2 M392,304.63 H389 M392,284.39 H390.2 M392,264.14 H389 M392,243.9 H390.2" stroke="#5e5e5e" stroke-width="1.3" fill="none"/>
<text x="392" y="442.6" text-anchor="middle" font-family='"Liberation Serif", serif' font-size="13.7" fill="#1a1a1a">0</text>
<text x="448.92" y="442.6" text-anchor="middle" font-family='"Liberation Serif", serif' font-size="13.7" fill="#1a1a1a">10</text>
<text x="505.84" y="442.6" text-anchor="middle" font-family='"Liberation Serif", serif' font-size="13.7" fill="#1a1a1a">20</text>
<text x="562.76" y="442.6" text-anchor="middle" font-family='"Liberation Serif", serif' font-size="13.7" fill="#1a1a1a">30</text>
<text x="619.68" y="442.6" text-anchor="middle" font-family='"Liberation Serif", serif' font-size="13.7" fill="#1a1a1a">40</text>
<text x="676.6" y="442.6" text-anchor="middle" font-family='"Liberation Serif", serif' font-size="13.7" fill="#1a1a1a">50</text>
<text x="387.4" y="430.7" text-anchor="end" font-family='"Liberation Serif", serif' font-size="13.7" fill="#1a1a1a">0</text>
<text x="387.4" y="390.21" text-anchor="end" font-family='"Liberation Serif", serif' font-size="13.7" fill="#1a1a1a">2</text>
<text x="387.4" y="349.72" text-anchor="end" font-family='"Liberation Serif", serif' font-size="13.7" fill="#1a1a1a">4</text>
<text x="387.4" y="309.23" text-anchor="end" font-family='"Liberation Serif", serif' font-size="13.7" fill="#1a1a1a">6</text>
<text x="387.4" y="268.74" text-anchor="end" font-family='"Liberation Serif", serif' font-size="13.7" fill="#1a1a1a">8</text>
<text x="511.9" y="460.6" font-family='"Liberation Serif", serif' font-size="13.0" fill="#1a1a1a">Time (h)</text>
<text transform="translate(370.8,343.7) rotate(-90)" text-anchor="middle" font-family='"Liberation Serif", serif' font-size="12.9" fill="#1a1a1a">Acetoin (g/L)</text>
<path d="M407.9,260 H433.6" stroke="#2a2a2a" stroke-width="1.1"/>
<rect x="418" y="257.25" width="5.5" height="5.5" fill="#000000"/>
<text x="436.6" y="264" font-family='"Liberation Serif", serif' font-size="11.3" fill="#1a1a1a">B10-127</text>
<path d="M407.9,274.2 H433.6" stroke="#ff2525" stroke-width="1.1"/>
<circle cx="420.75" cy="274.2" r="3.2" fill="#ff0000"/>
<text x="436.6" y="278.2" font-family='"Liberation Serif", serif' font-size="11.3" fill="#1a1a1a">GA</text>
<path d="M407.9,288.4 H433.6" stroke="#2a2aff" stroke-width="1.1"/>
<path d="M420.75,285.05 L424.65,291.75 L416.85,291.75 Z" fill="#0000ff"/>
<text x="436.6" y="292.4" font-family='"Liberation Serif", serif' font-size="11.3" fill="#1a1a1a">GAR</text>
<text x="354" y="249.6" font-family='"Liberation Sans", sans-serif' font-weight="bold" font-size="17.6" fill="#000">d</text>
</svg></body></html>
